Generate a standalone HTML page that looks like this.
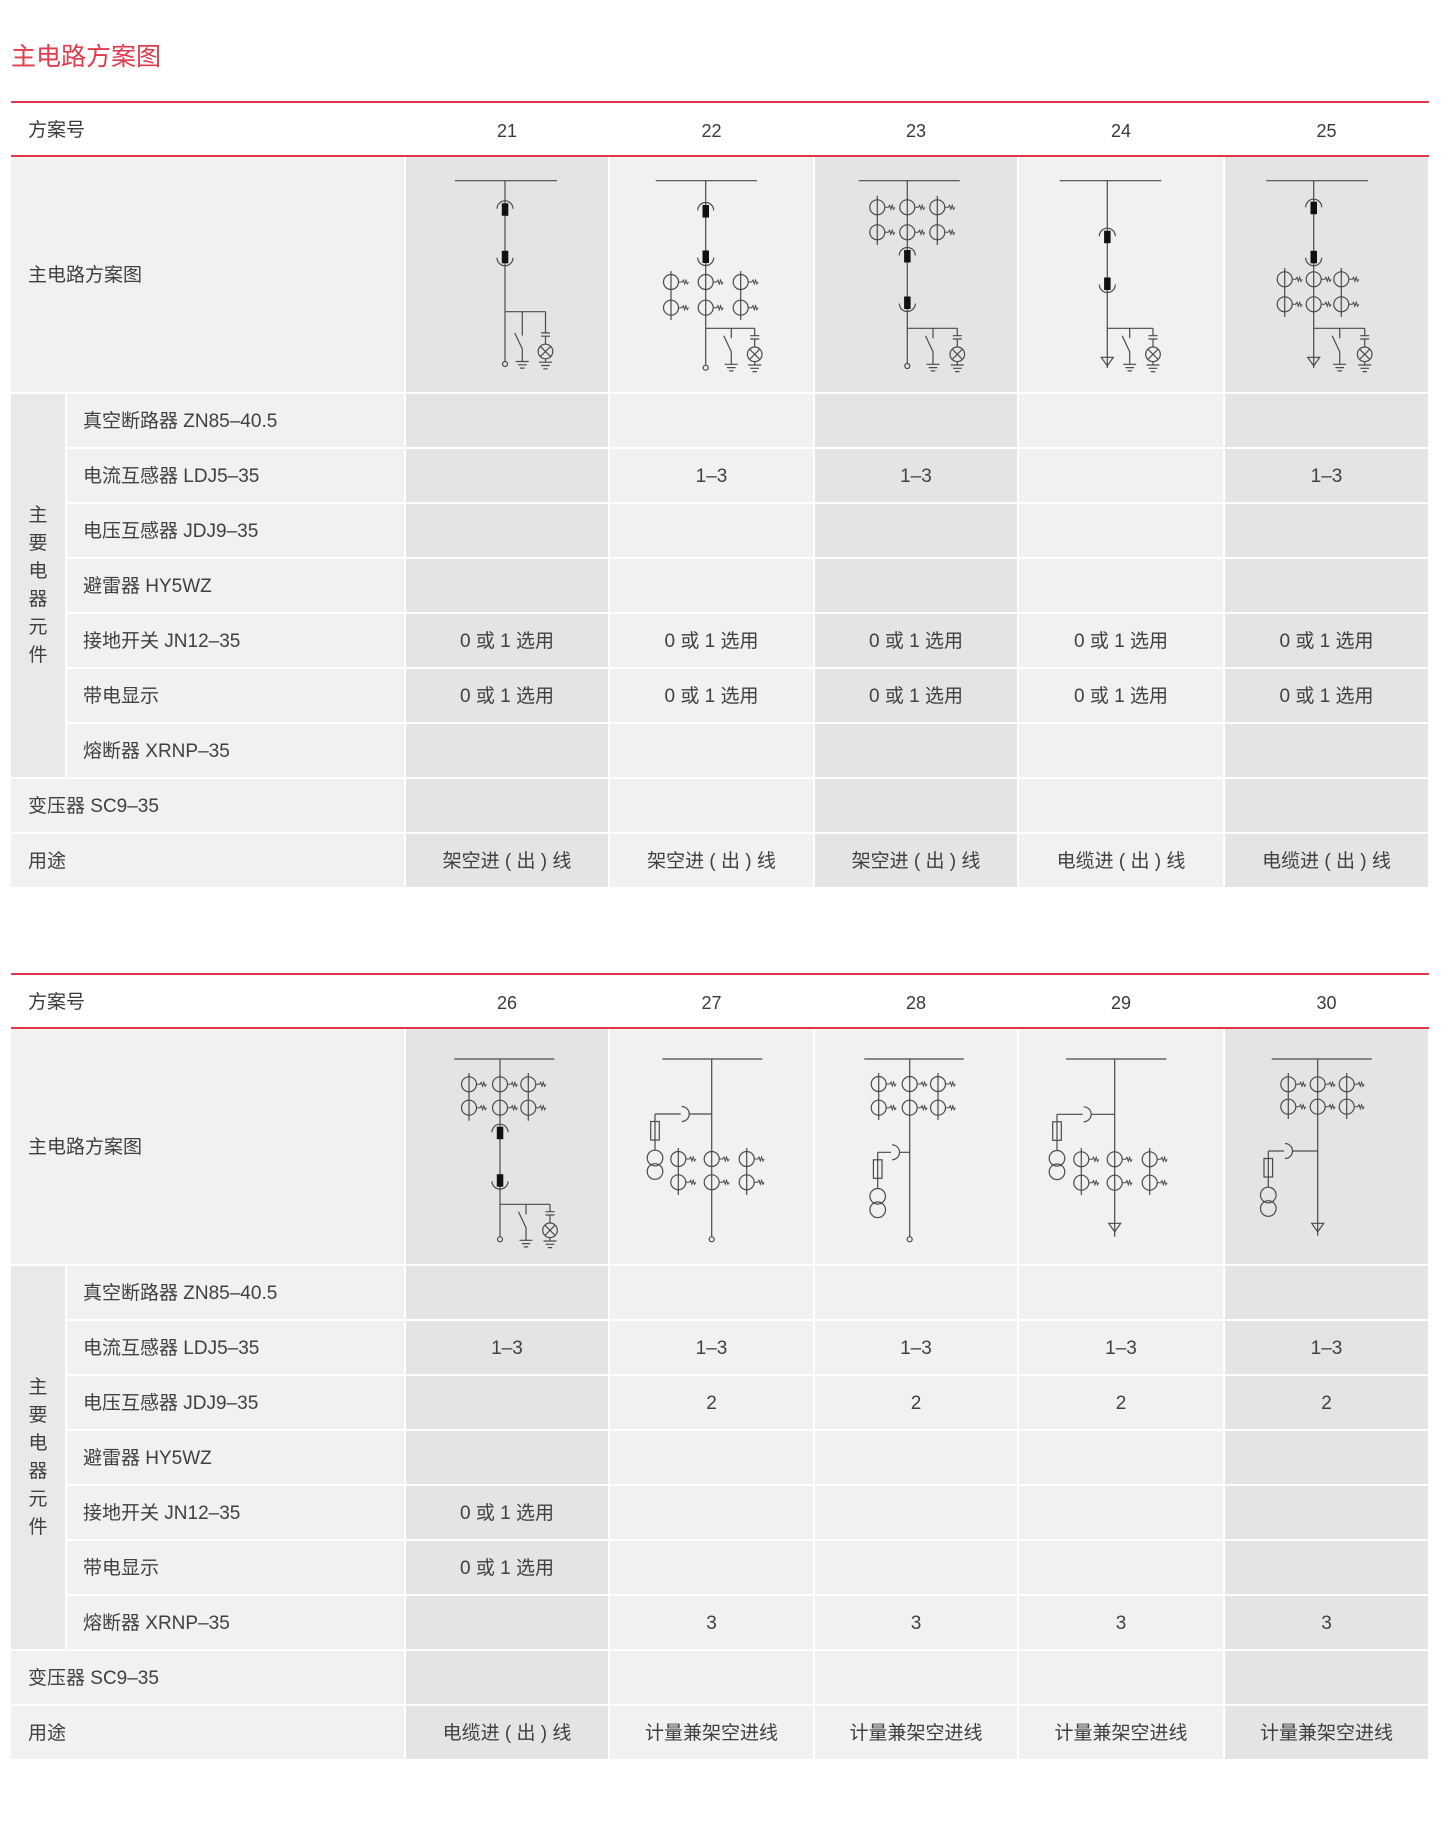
<!DOCTYPE html>
<html><head><meta charset="utf-8">
<style>
html,body{margin:0;padding:0;background:#fff}
body{width:1443px;height:1833px;position:relative;overflow:hidden;font-family:"Liberation Sans","Noto Sans CJK SC",sans-serif;color:#404040}
.title{position:absolute;left:11px;top:44px;font-size:25px;line-height:27px;color:#e03a4b;white-space:nowrap}
.red{position:absolute;left:11px;width:1418px;height:2px;background:#dc3a4c}
.hd{position:absolute;height:52px;line-height:52px;font-size:19px;color:#3a3a3a;white-space:nowrap}
.num{position:absolute;height:52px;line-height:52px;font-size:18px;color:#3a3a3a;text-align:center}
.row,.drow{position:absolute;left:0;width:1443px;height:53px}
.drow{height:235px}
.row>div,.drow>div{position:absolute;top:0;height:53px;line-height:55px;font-size:19px;color:#404040;white-space:nowrap}
.drow>div{height:235px;line-height:237px}
.lb2{left:67px;width:321px;padding-left:16px;background:#f1f1f1}
.lb{left:11px;width:376px;padding-left:17px;background:#f1f1f1}
.c0{left:406px;width:202px;text-align:center}
.c1{left:610px;width:203px;text-align:center}
.c2{left:815px;width:202px;text-align:center}
.c3{left:1019px;width:204px;text-align:center}
.c4{left:1225px;width:203px;text-align:center}
.d{background:#e4e4e4}
.l{background:#f1f1f1}
.sub{position:absolute;left:11px;width:54px;background:#e9e9e9}
.vt{position:absolute;left:11px;width:54px;text-align:center;font-size:19px;line-height:28px;color:#404040}
svg{position:absolute;left:0;top:0}
</style></head><body>

<div class="title">主电路方案图</div>

<!-- ===== TABLE 1 ===== -->
<div class="red" style="top:101px"></div>
<div class="hd" style="left:28px;top:105px">方案号</div>
<div class="num" style="left:406px;width:202px;top:105px">21</div>
<div class="num" style="left:610px;width:203px;top:105px">22</div>
<div class="num" style="left:815px;width:202px;top:105px">23</div>
<div class="num" style="left:1019px;width:204px;top:105px">24</div>
<div class="num" style="left:1225px;width:203px;top:105px">25</div>
<div class="red" style="top:155px"></div>

<div class="drow" style="top:157px">
<div class="lb">主电路方案图</div>
<div class="c0 d"></div><div class="c1 l"></div><div class="c2 d"></div><div class="c3 l"></div><div class="c4 d"></div>
</div>

<div class="sub" style="top:394px;height:383px"></div>
<div class="vt" style="top:502px">主<br>要<br>电<br>器<br>元<br>件</div>

<div class="row" style="top:394px"><div class="lb2">真空断路器 ZN85–40.5</div>
<div class="c0 d"></div><div class="c1 l"></div><div class="c2 d"></div><div class="c3 l"></div><div class="c4 d"></div></div>
<div class="row" style="top:449px"><div class="lb2">电流互感器 LDJ5–35</div>
<div class="c0 d"></div><div class="c1 l">1–3</div><div class="c2 d">1–3</div><div class="c3 l"></div><div class="c4 d">1–3</div></div>
<div class="row" style="top:504px"><div class="lb2">电压互感器 JDJ9–35</div>
<div class="c0 d"></div><div class="c1 l"></div><div class="c2 d"></div><div class="c3 l"></div><div class="c4 d"></div></div>
<div class="row" style="top:559px"><div class="lb2">避雷器 HY5WZ</div>
<div class="c0 d"></div><div class="c1 l"></div><div class="c2 d"></div><div class="c3 l"></div><div class="c4 d"></div></div>
<div class="row" style="top:614px"><div class="lb2">接地开关 JN12–35</div>
<div class="c0 d">0 或 1 选用</div><div class="c1 l">0 或 1 选用</div><div class="c2 d">0 或 1 选用</div><div class="c3 l">0 或 1 选用</div><div class="c4 d">0 或 1 选用</div></div>
<div class="row" style="top:669px"><div class="lb2">带电显示</div>
<div class="c0 d">0 或 1 选用</div><div class="c1 l">0 或 1 选用</div><div class="c2 d">0 或 1 选用</div><div class="c3 l">0 或 1 选用</div><div class="c4 d">0 或 1 选用</div></div>
<div class="row" style="top:724px"><div class="lb2">熔断器 XRNP–35</div>
<div class="c0 d"></div><div class="c1 l"></div><div class="c2 d"></div><div class="c3 l"></div><div class="c4 d"></div></div>
<div class="row" style="top:779px"><div class="lb">变压器 SC9–35</div>
<div class="c0 d"></div><div class="c1 l"></div><div class="c2 d"></div><div class="c3 l"></div><div class="c4 d"></div></div>
<div class="row" style="top:834px"><div class="lb">用途</div>
<div class="c0 d">架空进 ( 出 ) 线</div><div class="c1 l">架空进 ( 出 ) 线</div><div class="c2 d">架空进 ( 出 ) 线</div><div class="c3 l">电缆进 ( 出 ) 线</div><div class="c4 d">电缆进 ( 出 ) 线</div></div>

<!-- ===== TABLE 2 ===== -->
<div class="red" style="top:973px"></div>
<div class="hd" style="left:28px;top:977px">方案号</div>
<div class="num" style="left:406px;width:202px;top:977px">26</div>
<div class="num" style="left:610px;width:203px;top:977px">27</div>
<div class="num" style="left:815px;width:202px;top:977px">28</div>
<div class="num" style="left:1019px;width:204px;top:977px">29</div>
<div class="num" style="left:1225px;width:203px;top:977px">30</div>
<div class="red" style="top:1027px"></div>

<div class="drow" style="top:1029px">
<div class="lb">主电路方案图</div>
<div class="c0 d"></div><div class="c1 l"></div><div class="c2 l"></div><div class="c3 l"></div><div class="c4 d"></div>
</div>

<div class="sub" style="top:1266px;height:383px"></div>
<div class="vt" style="top:1374px">主<br>要<br>电<br>器<br>元<br>件</div>

<div class="row" style="top:1266px"><div class="lb2">真空断路器 ZN85–40.5</div>
<div class="c0 d"></div><div class="c1 l"></div><div class="c2 l"></div><div class="c3 l"></div><div class="c4 d"></div></div>
<div class="row" style="top:1321px"><div class="lb2">电流互感器 LDJ5–35</div>
<div class="c0 d">1–3</div><div class="c1 l">1–3</div><div class="c2 l">1–3</div><div class="c3 l">1–3</div><div class="c4 d">1–3</div></div>
<div class="row" style="top:1376px"><div class="lb2">电压互感器 JDJ9–35</div>
<div class="c0 d"></div><div class="c1 l">2</div><div class="c2 l">2</div><div class="c3 l">2</div><div class="c4 d">2</div></div>
<div class="row" style="top:1431px"><div class="lb2">避雷器 HY5WZ</div>
<div class="c0 d"></div><div class="c1 l"></div><div class="c2 l"></div><div class="c3 l"></div><div class="c4 d"></div></div>
<div class="row" style="top:1486px"><div class="lb2">接地开关 JN12–35</div>
<div class="c0 d">0 或 1 选用</div><div class="c1 l"></div><div class="c2 l"></div><div class="c3 l"></div><div class="c4 d"></div></div>
<div class="row" style="top:1541px"><div class="lb2">带电显示</div>
<div class="c0 d">0 或 1 选用</div><div class="c1 l"></div><div class="c2 l"></div><div class="c3 l"></div><div class="c4 d"></div></div>
<div class="row" style="top:1596px"><div class="lb2">熔断器 XRNP–35</div>
<div class="c0 d"></div><div class="c1 l">3</div><div class="c2 l">3</div><div class="c3 l">3</div><div class="c4 d">3</div></div>
<div class="row" style="top:1651px"><div class="lb">变压器 SC9–35</div>
<div class="c0 d"></div><div class="c1 l"></div><div class="c2 l"></div><div class="c3 l"></div><div class="c4 d"></div></div>
<div class="row" style="top:1706px"><div class="lb">用途</div>
<div class="c0 d">电缆进 ( 出 ) 线</div><div class="c1 l">计量兼架空进线</div><div class="c2 l">计量兼架空进线</div><div class="c3 l">计量兼架空进线</div><div class="c4 d">计量兼架空进线</div></div>

<!-- ===== DIAGRAMS ===== -->
<svg width="1443" height="1833" viewBox="0 0 1443 1833">
<defs>
<g id="bt"><rect x="-3.2" y="0" width="6.5" height="12.5" fill="#111" stroke="none"/><path d="M-8,5.5 A8,8 0 0 1 8,5.5"/></g>
<g id="bb"><rect x="-3.2" y="-12.5" width="6.5" height="12.5" fill="#111" stroke="none"/><path d="M-8,-5.5 A8,8 0 0 0 8,-5.5"/></g>
<g id="ct"><circle r="7.5"/><path d="M7.5,0 H11 l1.3,-2 l1.3,4 l1.3,-4 l1.3,4 l1.3,-2" stroke-width="1"/></g>
<g id="gnd"><path d="M-6.5,0 H6.5 M-4.3,3.3 H4.3 M-2.2,6.6 H2.2"/></g>
<g id="sw"><path d="M0,0 V10 M-7.5,7.5 L0,23.5 V36"/><use href="#gnd" y="36"/></g>
<g id="lamp"><path d="M0,0 V7.4 M-4.5,7.4 H4.5 M-4.5,10.7 H4.5 M0,10.7 V18.7 M0,33.3 V36.7"/><circle cy="26" r="7.3"/><path d="M-5.2,20.8 L5.2,31.2 M5.2,20.8 L-5.2,31.2"/><use href="#gnd" y="36.7"/></g>
<g id="tri"><path d="M-6,0 H6 L0,8.5 Z"/></g>
<g id="pt"><path d="M0,0 V36.2"/><rect x="-4.3" y="7.5" width="8.6" height="18.5"/><circle cy="44" r="7.8"/><circle cy="57.5" r="7.8"/></g>
</defs>
<g stroke="#4a4a4a" stroke-width="1.2" fill="none">

<!-- 21 -->
<path d="M455,180.7 H557 M505,180.7 V361.5 M505,311.7 H545.5 M522.3,311.7 V325.5 M545.5,311.7 V325.5"/>
<use href="#bt" x="505" y="203.3"/><use href="#bb" x="505" y="263.3"/>
<use href="#sw" x="522.3" y="325.5"/><use href="#lamp" x="545.5" y="325.5"/>
<circle cx="505" cy="364" r="2.5"/>

<!-- 22 -->
<path d="M655.7,180.7 H757 M705.7,180.7 V365.2 M705.7,328.3 H754.7 M671,271 V320 M740.7,271 V320"/>
<use href="#bt" x="705.7" y="205"/><use href="#bb" x="705.7" y="263"/>
<use href="#ct" x="671" y="282"/><use href="#ct" x="705.7" y="282"/><use href="#ct" x="740.7" y="282"/>
<use href="#ct" x="671" y="307.7"/><use href="#ct" x="705.7" y="307.7"/><use href="#ct" x="740.7" y="307.7"/>
<use href="#sw" x="731.3" y="328.3"/><use href="#lamp" x="754.7" y="328.3"/>
<circle cx="705.7" cy="367.7" r="2.5"/>

<!-- 23 -->
<path d="M858.7,180.7 H959.7 M907.3,180.7 V363.5 M907.3,328.3 H957.3 M877.3,195.7 V245 M937.3,195.7 V245"/>
<use href="#ct" x="877.3" y="207.3"/><use href="#ct" x="907.3" y="207.3"/><use href="#ct" x="937.3" y="207.3"/>
<use href="#ct" x="877.3" y="232.3"/><use href="#ct" x="907.3" y="232.3"/><use href="#ct" x="937.3" y="232.3"/>
<use href="#bt" x="907.3" y="250"/><use href="#bb" x="907.3" y="309"/>
<use href="#sw" x="933" y="328.3"/><use href="#lamp" x="957.3" y="328.3"/>
<circle cx="907.3" cy="366" r="2.5"/>

<!-- 24 -->
<path d="M1059.7,180.7 H1161.3 M1107.3,180.7 V368 M1107.3,328.3 H1153"/>
<use href="#bt" x="1107.3" y="230.7"/><use href="#bb" x="1107.3" y="290"/>
<use href="#sw" x="1129.7" y="328.3"/><use href="#lamp" x="1153" y="328.3"/>
<use href="#tri" x="1107.3" y="357.3"/>

<!-- 25 -->
<path d="M1266.3,180.7 H1368 M1313.7,180.7 V368 M1313.7,328.3 H1364.7 M1284.7,268 V317 M1341.3,268 V317"/>
<use href="#bt" x="1313.7" y="201.7"/><use href="#bb" x="1313.7" y="263.3"/>
<use href="#ct" x="1284.7" y="279.3"/><use href="#ct" x="1313.7" y="279.3"/><use href="#ct" x="1341.3" y="279.3"/>
<use href="#ct" x="1284.7" y="304.3"/><use href="#ct" x="1313.7" y="304.3"/><use href="#ct" x="1341.3" y="304.3"/>
<use href="#sw" x="1339.7" y="328.3"/><use href="#lamp" x="1364.7" y="328.3"/>
<use href="#tri" x="1313.7" y="357.3"/>

<!-- 26 -->
<path d="M454.3,1059 H554.3 M500,1059 V1236.8 M500,1204.3 H550 M469,1073 V1120.7 M528.3,1073 V1120.7"/>
<use href="#ct" x="469" y="1084.3"/><use href="#ct" x="500" y="1084.3"/><use href="#ct" x="528.3" y="1084.3"/>
<use href="#ct" x="469" y="1107.7"/><use href="#ct" x="500" y="1107.7"/><use href="#ct" x="528.3" y="1107.7"/>
<use href="#bt" x="500" y="1126.7"/><use href="#bb" x="500" y="1186.7"/>
<use href="#sw" x="526" y="1204.3"/><use href="#lamp" x="550" y="1204.3"/>
<circle cx="500" cy="1239.3" r="2.5"/>

<!-- 27 -->
<path d="M662.3,1059 H762.3 M711.7,1059 V1236.8 M711.7,1114 H689.2 M680.7,1114 H655 M678.3,1148 V1195 M746.7,1148 V1195"/>
<path d="M681.7,1106.5 A7.5,7.5 0 0 1 681.7,1121.5"/>
<use href="#pt" x="655" y="1114"/>
<use href="#ct" x="678.3" y="1159"/><use href="#ct" x="711.7" y="1159"/><use href="#ct" x="746.7" y="1159"/>
<use href="#ct" x="678.3" y="1182.3"/><use href="#ct" x="711.7" y="1182.3"/><use href="#ct" x="746.7" y="1182.3"/>
<circle cx="711.7" cy="1239.3" r="2.5"/>

<!-- 28 -->
<path d="M864.3,1059 H963.7 M909.7,1059 V1236.8 M909.7,1152.3 H899.5 M891,1152.3 H877.7 M878.7,1073 V1120 M938,1073 V1120"/>
<path d="M892,1144.8 A7.5,7.5 0 0 1 892,1159.8"/>
<use href="#ct" x="878.7" y="1084"/><use href="#ct" x="909.7" y="1084"/><use href="#ct" x="938" y="1084"/>
<use href="#ct" x="878.7" y="1107.7"/><use href="#ct" x="909.7" y="1107.7"/><use href="#ct" x="938" y="1107.7"/>
<use href="#pt" x="877.7" y="1152.3"/>
<circle cx="909.7" cy="1239.3" r="2.5"/>

<!-- 29 -->
<path d="M1066,1059 H1166.3 M1114.7,1059 V1236.7 M1114.7,1114.3 H1091.2 M1082.7,1114.3 H1057 M1081.3,1148 V1195 M1149.7,1148 V1195"/>
<path d="M1083.7,1106.8 A7.5,7.5 0 0 1 1083.7,1121.8"/>
<use href="#pt" x="1057" y="1114.3"/>
<use href="#ct" x="1081.3" y="1159.3"/><use href="#ct" x="1114.7" y="1159.3"/><use href="#ct" x="1149.7" y="1159.3"/>
<use href="#ct" x="1081.3" y="1182.7"/><use href="#ct" x="1114.7" y="1182.7"/><use href="#ct" x="1149.7" y="1182.7"/>
<use href="#tri" x="1114.7" y="1223.3"/>

<!-- 30 -->
<path d="M1271.7,1059 H1371.7 M1317.7,1059 V1235.7 M1317.7,1151 H1292.5 M1284,1151 H1268.3 M1288.3,1073 V1119 M1346.7,1073 V1119"/>
<path d="M1285,1143.5 A7.5,7.5 0 0 1 1285,1158.5"/>
<use href="#ct" x="1288.3" y="1084.3"/><use href="#ct" x="1317.7" y="1084.3"/><use href="#ct" x="1346.7" y="1084.3"/>
<use href="#ct" x="1288.3" y="1106.7"/><use href="#ct" x="1317.7" y="1106.7"/><use href="#ct" x="1346.7" y="1106.7"/>
<use href="#pt" x="1268.3" y="1151"/>
<use href="#tri" x="1317.7" y="1223.3"/>
</g>
</svg>
</body></html>
